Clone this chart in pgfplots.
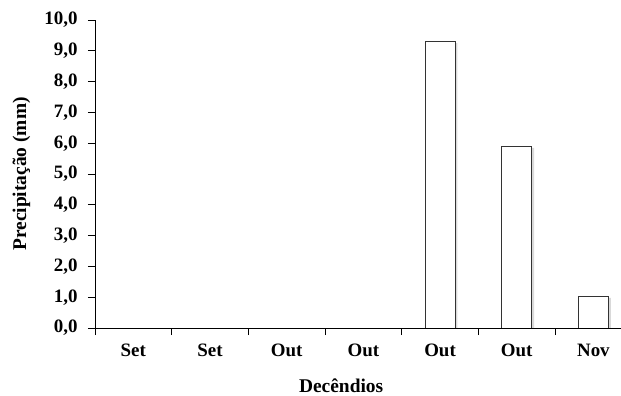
\documentclass[border=0pt]{standalone}
\usepackage{pgfplots}
\pgfplotsset{compat=1.18}
\usepackage{fontspec}
\setmainfont{Liberation Serif}
\begin{document}
\begin{tikzpicture}
\begin{axis}[
  scale only axis,
  width=526bp, height=308bp,
  xmin=-0.5, xmax=6.36, ymin=0, ymax=10,
  axis x line*=bottom, axis y line*=left,
  axis line style={-, line width=0.8bp, black},
  ytick={0,1,...,10},
  xtick={-0.5,0.5,1.5,2.5,3.5,4.5,5.5},
  xticklabels={},
  extra x ticks={0,1,2,3,4,5,6},
  extra x tick labels={Set,Set,Out,Out,Out,Out,Nov},
  extra x tick style={major tick length=0pt},
  major tick length=7bp,
  tick align=outside,
  tick style={line width=0.8bp, black},
  /pgf/number format/fixed,
  /pgf/number format/fixed zerofill,
  /pgf/number format/precision=1,
  /pgf/number format/use comma,
  /pgf/number format/assume math mode=true,
  ticklabel style={font=\fontsize{19}{21}\selectfont\bfseries},
  yticklabel style={xshift=-7bp},
  xticklabel style={yshift=-12bp, text height=13bp, text depth=3bp},
  ylabel={Precipitação (mm)},
  xlabel={Decêndios},
  label style={font=\fontsize{19.5}{21}\selectfont\bfseries},
  ylabel style={at={(axis description cs:-0.14,0.5)}, anchor=center},
  xlabel style={at={(axis description cs:0.468,-0.211)}, anchor=base},
  ybar, bar width=0.39,
]
\addplot[fill=gray!30, draw=none, bar shift=2.5bp] coordinates {(4,9.25) (5,5.85) (6,0.98)};
\addplot[fill=white, draw=black!80, line width=0.9bp, bar shift=0pt] coordinates {(0,0) (1,0) (2,0) (3,0) (4,9.3) (5,5.9) (6,1.03)};
\end{axis}
\pgfresetboundingbox
\path[use as bounding box] ([xshift=-95bp,yshift=-68bp]current axis.south west) rectangle ([yshift=20bp]current axis.north east);
\end{tikzpicture}
\end{document}
